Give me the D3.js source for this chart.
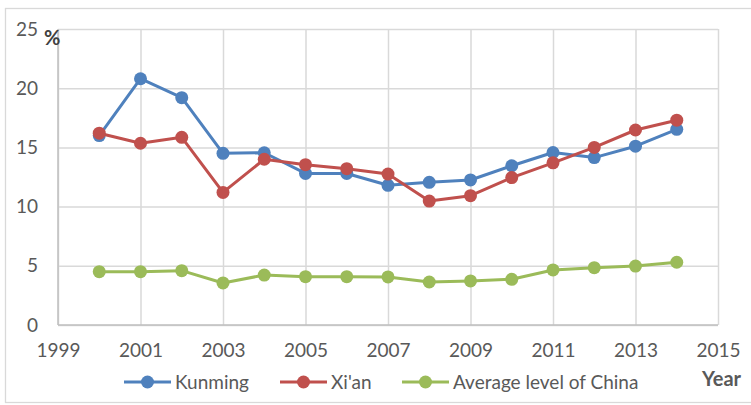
<!DOCTYPE html>
<html lang="en">
<head>
    <meta charset="utf-8">
    <title>Kunming / Xi'an</title>
    <script src="https://d3js.org/d3.v7.min.js"></script>
    <style>
        body { margin: 0; background: #fff; }
        text { font-family: Lato, "Open Sans", sans-serif; }
    </style>
</head>
<body>
    <div id="dataviz"></div>
    <script>

        var years = [2000, 2001, 2002, 2003, 2004, 2005, 2006, 2007, 2008, 2009, 2010, 2011, 2012, 2013, 2014];
        var kunming = [16.0, 20.8, 19.2, 14.5, 14.55, 12.8, 12.8, 11.8, 12.05, 12.25, 13.45, 14.57, 14.14, 15.1, 16.53];
        var xian = [16.2, 15.35, 15.85, 11.2, 14.0, 13.54, 13.2, 12.75, 10.47, 10.92, 12.45, 13.7, 15.0, 16.47, 17.3];
        var china = [4.5, 4.5, 4.59, 3.55, 4.22, 4.08, 4.08, 4.06, 3.63, 3.72, 3.86, 4.65, 4.84, 4.98, 5.3];
        var seriesNames = ["Kunming", "Xi'an", "Average level of China"];
        var seriesColors = ["#4f81bd", "#c0504d", "#9bbb59"];
        var xTicks = [1999, 2001, 2003, 2005, 2007, 2009, 2011, 2013, 2015];
        var yTicks = [0, 5, 10, 15, 20, 25];

        var margin = { top: 29, right: 33, bottom: 80, left: 58 },
            width = 751 - margin.left - margin.right,
            height = 405 - margin.top - margin.bottom;

        var svg = d3.select("#dataviz")
            .append("svg")
            .attr("width", 751)
            .attr("height", 405);

        // outer chart border
        svg.append("rect")
            .attr("x", 5.5).attr("y", 8.5)
            .attr("width", 760).attr("height", 394)
            .attr("fill", "none")
            .attr("stroke", "#d9d9d9")
            .attr("stroke-width", 1.3);

        var g = svg.append("g")
            .attr("transform", "translate(" + margin.left + "," + margin.top + ")");

        var x = d3.scaleLinear().domain([1999, 2015]).range([0, width]);
        var y = d3.scaleLinear().domain([0, 25]).range([height, 0]);

        // grid
        var xGrid = g.append("g")
            .attr("transform", "translate(0," + height + ")")
            .call(d3.axisBottom(x).tickValues(xTicks).tickSize(-height).tickFormat(""));
        var yGrid = g.append("g")
            .call(d3.axisLeft(y).tickValues(yTicks).tickSize(-width).tickFormat(""));
        [xGrid, yGrid].forEach(function (a) {
            a.select(".domain").remove();
            a.selectAll("line").attr("stroke", "#d9d9d9").attr("stroke-width", 1.5);
        });

        // axis lines
        g.append("line").attr("x1", 0).attr("x2", width).attr("y1", y(0)).attr("y2", y(0))
            .attr("stroke", "#bfbfbf").attr("stroke-width", 1.5);
        g.append("line").attr("x1", 0).attr("x2", 0).attr("y1", 0).attr("y2", height)
            .attr("stroke", "#bfbfbf").attr("stroke-width", 1.5);

        // tick labels
        var xAxis = g.append("g")
            .attr("transform", "translate(0," + height + ")")
            .call(d3.axisBottom(x).tickValues(xTicks).tickSize(0).tickPadding(19).tickFormat(d3.format("d")));
        var yAxis = g.append("g")
            .call(d3.axisLeft(y).tickValues(yTicks).tickSize(0).tickPadding(20));
        [xAxis, yAxis].forEach(function (a) {
            a.select(".domain").remove();
            a.selectAll("text")
                .style("font-family", "Lato, sans-serif")
                .style("font-size", "19px")
                .attr("fill", "#595959");
        });

        var dataReady = [kunming, xian, china].map(function (vals, i) {
            return {
                name: seriesNames[i],
                color: seriesColors[i],
                values: years.map(function (yr, j) { return { year: yr, value: vals[j] }; })
            };
        });

        var line = d3.line()
            .x(function (d) { return x(d.year); })
            .y(function (d) { return y(d.value); });

        var series = g.selectAll(".series")
            .data(dataReady)
            .enter()
            .append("g");

        series.append("path")
            .attr("d", function (d) { return line(d.values); })
            .attr("stroke", function (d) { return d.color; })
            .attr("stroke-width", 3)
            .attr("fill", "none")
            .attr("stroke-linejoin", "round");

        series.selectAll("circle")
            .data(function (d) { return d.values.map(function (v) { return { v: v, color: d.color }; }); })
            .enter()
            .append("circle")
            .attr("cx", function (d) { return x(d.v.year); })
            .attr("cy", function (d) { return y(d.v.value); })
            .attr("r", 6.5)
            .attr("fill", function (d) { return d.color; });

        // legend
        var legendX = [124, 280, 402];
        var legend = svg.selectAll(".legend")
            .data(dataReady)
            .enter()
            .append("g")
            .attr("transform", function (d, i) { return "translate(" + legendX[i] + ",382)"; });
        legend.append("line")
            .attr("x1", 0).attr("x2", 47)
            .attr("stroke", function (d) { return d.color; })
            .attr("stroke-width", 3);
        legend.append("circle")
            .attr("cx", 23.5).attr("r", 6.5)
            .attr("fill", function (d) { return d.color; });
        legend.append("text")
            .attr("x", 51).attr("dy", "0.35em")
            .style("font-size", "19px")
            .attr("fill", "#595959")
            .text(function (d) { return d.name; });

        svg.append("text").attr("x", 44).attr("y", 45)
            .text("%")
            .style("font-size", "20px").style("font-weight", "bold")
            .attr("fill", "#404040");

        svg.append("text").attr("x", 702).attr("y", 386)
            .text("Year")
            .style("font-size", "20px").style("font-weight", "bold")
            .attr("fill", "#595959");

    </script>
</body>
</html>
